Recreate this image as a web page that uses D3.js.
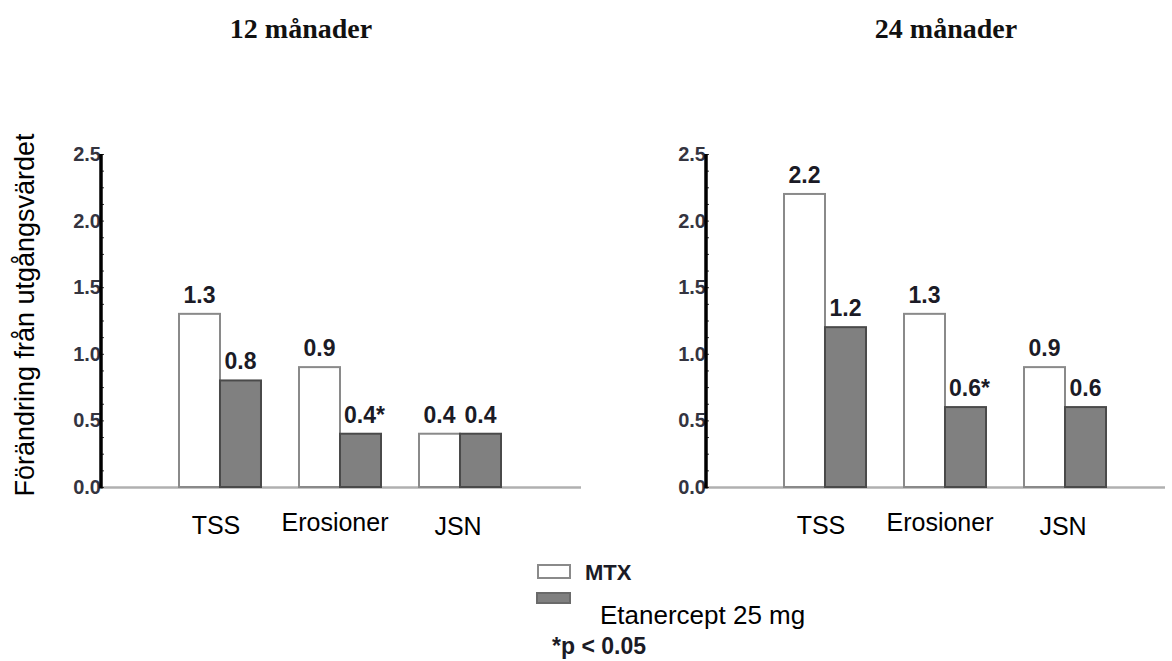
<!DOCTYPE html>
<html>
<head>
<meta charset="utf-8">
<script src="https://cdn.jsdelivr.net/npm/d3@7"></script>
<style>
  html, body { margin: 0; padding: 0; background: #fff; }
  svg { display: block; }
</style>
</head>
<body>
<svg id="chart" width="1172" height="661"></svg>
<script>
// ---- data ----
const categories = ["TSS", "Erosioner", "JSN"];
const seriesNames = ["MTX", "Etanercept 25 mg"];
const mtx12 = [1.3, 0.9, 0.4];
const etn12 = [0.8, 0.4, 0.4];
const mtx24 = [2.2, 1.3, 0.9];
const etn24 = [1.2, 0.6, 0.6];
const sig12 = [false, true, false];   // etanercept p < 0.05
const sig24 = [false, true, false];
const yTicks = [0, 0.5, 1.0, 1.5, 2.0, 2.5];
const panelTitles = ["12 månader", "24 månader"];
const yTitle = "Förändring från utgångsvärdet";
const footnote = "*p < 0.05";

// ---- layout ----
const svg = d3.select("#chart");
const y = d3.scaleLinear().domain([0, 2.5]).range([487, 154]);
const catLabelOffsets = [{dx: -4, dy: 0}, {dx: -5, dy: -3}, {dx: -2, dy: 1}];

const panels = [
  { title: panelTitles[0], titleX: 301, axisX: 101, baseEnd: 581, range: [160, 520], mtx: mtx12, etn: etn12, sig: sig12 },
  { title: panelTitles[1], titleX: 946, axisX: 706, baseEnd: 1165, range: [765, 1125], mtx: mtx24, etn: etn24, sig: sig24 }
];

const fillCol = ["#ffffff", "#808080"];
const strokeCol = ["#8a8a8a", "#4a4a4a"];

panels.forEach((p, pi) => {
  const g = svg.append("g");
  const x = d3.scaleBand().domain(categories).range(p.range)
    .paddingInner(0.3167).paddingOuter(0.1583);
  const xs = d3.scaleBand().domain(seriesNames).range([0, x.bandwidth()]);

  // title
  g.append("text").attr("x", p.titleX).attr("y", 38)
    .attr("text-anchor", "middle")
    .style("font-family", "'Liberation Serif', 'Times New Roman', serif")
    .style("font-weight", "bold").style("font-size", "28px").attr("fill", "#111")
    .text(p.title);

  // baseline
  g.append("line").attr("x1", p.axisX).attr("x2", p.baseEnd)
    .attr("y1", y(0) + 0.5).attr("y2", y(0) + 0.5)
    .attr("stroke", "#b0b0b0").attr("stroke-width", 2.5);

  // bars
  const rows = categories.map((c, i) => ({ c, i, vals: [p.mtx[i], p.etn[i]] }));
  const grp = g.selectAll("g.cat").data(rows).join("g")
    .attr("transform", d => `translate(${x(d.c)},0)`);
  grp.selectAll("rect").data(d => d.vals.map((v, k) => ({ v, k, s: seriesNames[k] })))
    .join("rect")
    .attr("x", d => xs(d.s)).attr("width", xs.bandwidth())
    .attr("y", d => y(d.v)).attr("height", d => y(0) - y(d.v))
    .attr("fill", d => fillCol[d.k]).attr("stroke", d => strokeCol[d.k])
    .attr("stroke-width", 2);

  // value labels
  grp.selectAll("text.val").data(d => d.vals.map((v, k) => ({ v, k, s: seriesNames[k], star: k === 1 && p.sig[d.i] })))
    .join("text").attr("class", "val")
    .attr("x", d => xs(d.s) + xs.bandwidth() / 2 + (d.star ? 4 : 0))
    .attr("y", d => y(d.v) - 11)
    .attr("text-anchor", "middle")
    .style("font-family", "'Liberation Sans', Arial, sans-serif")
    .style("font-weight", "bold").style("font-size", "23px").attr("fill", "#1b1b26")
    .text(d => d3.format(".1f")(d.v) + (d.star ? "*" : ""));

  // category labels
  g.selectAll("text.cat").data(categories).join("text").attr("class", "cat")
    .attr("x", (d, i) => x(d) + x.bandwidth() / 2 + catLabelOffsets[i].dx)
    .attr("y", (d, i) => 534 + catLabelOffsets[i].dy)
    .attr("text-anchor", "middle")
    .style("font-family", "'Liberation Sans', Arial, sans-serif")
    .style("font-size", "25px").attr("fill", "#000")
    .text(d => d);

  // y axis: labels
  const axL = g.append("g").attr("transform", `translate(${p.axisX},0)`)
    .call(d3.axisLeft(y).tickValues(yTicks).tickFormat(d3.format(".1f")).tickSize(0).tickPadding(0));
  axL.select(".domain").remove();
  axL.selectAll("text")
    .style("font-family", "'Liberation Sans', Arial, sans-serif")
    .style("font-weight", "bold").style("font-size", "20px").attr("fill", "#34343f");

  // minor ticks on right side
  const axR = g.append("g").attr("transform", `translate(${p.axisX},0)`)
    .call(d3.axisRight(y).tickValues(d3.range(0, 2.5001, 0.125)).tickFormat("").tickSize(3));
  axR.select(".domain").remove();
  axR.selectAll("line").attr("stroke", "#333").attr("stroke-width", 1);

  // axis line
  g.append("line").attr("x1", p.axisX).attr("x2", p.axisX)
    .attr("y1", y(2.5)).attr("y2", y(0) + 1.5)
    .attr("stroke", "#000").attr("stroke-width", 3.5);
});

// y title
svg.append("text").attr("transform", "translate(34,315) rotate(-90)")
  .attr("text-anchor", "middle")
  .style("font-family", "'Liberation Sans', Arial, sans-serif")
  .style("font-size", "27px").attr("fill", "#000")
  .text(yTitle);

// legend
const leg = svg.append("g");
leg.append("rect").attr("x", 538).attr("y", 565).attr("width", 32).attr("height", 13)
  .attr("fill", fillCol[0]).attr("stroke", strokeCol[0]).attr("stroke-width", 2);
leg.append("text").attr("x", 585).attr("y", 580)
  .style("font-family", "'Liberation Sans', Arial, sans-serif")
  .style("font-weight", "bold").style("font-size", "22px").attr("fill", "#1b1b26")
  .text(seriesNames[0].split(" ")[0]);
leg.append("rect").attr("x", 537).attr("y", 593).attr("width", 33).attr("height", 10)
  .attr("fill", fillCol[1]).attr("stroke", "#6a6a6a").attr("stroke-width", 2);
leg.append("text").attr("x", 600).attr("y", 624)
  .style("font-family", "'Liberation Sans', Arial, sans-serif")
  .style("font-size", "26px").attr("fill", "#000")
  .text(seriesNames[1]);
leg.append("text").attr("x", 552).attr("y", 654)
  .style("font-family", "'Liberation Sans', Arial, sans-serif")
  .style("font-weight", "bold").style("font-size", "23px").attr("fill", "#1b1b26")
  .text(footnote);
</script>
</body>
</html>
